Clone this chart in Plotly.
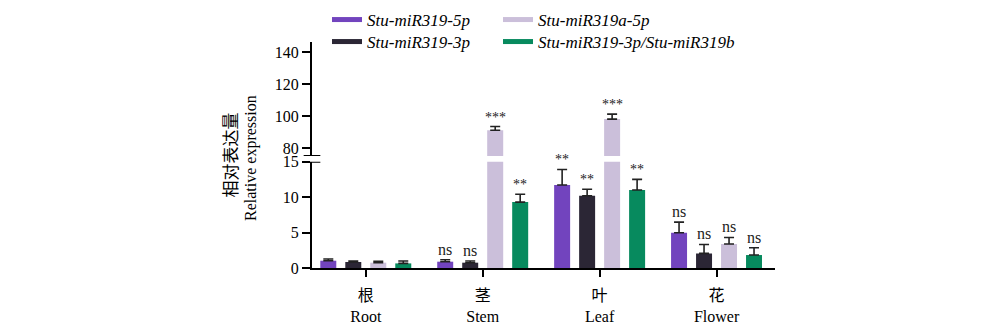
import plotly.graph_objects as go

categories = ["Root", "Stem", "Leaf", "Flower"]
categories_cn = ["根", "茎", "叶", "花"]
series_names = ["Stu-miR319-5p", "Stu-miR319-3p", "Stu-miR319a-5p", "Stu-miR319-3p/Stu-miR319b"]
colors = ["#7244be", "#2b2635", "#cbbfda", "#078a5e"]

mir319_5p = [1.03, 0.89, 11.7, 4.97]
mir319_5p_err = [0.24, 0.28, 2.2, 1.5]
mir319_3p = [0.85, 0.75, 10.2, 2.06]
mir319_3p_err = [0.14, 0.24, 0.9, 1.26]
mir319a_5p = [0.75, 91.3, 98.2, 3.38]
mir319a_5p_err = [0.18, 2.3, 3.1, 0.93]
mir319b = [0.65, 9.3, 11.0, 1.83]
mir319b_err = [0.34, 1.1, 1.5, 1.03]

sig_5p = ["", "ns", "**", "ns"]
sig_3p = ["", "ns", "**", "ns"]
sig_a5p = ["", "***", "***", "ns"]
sig_b = ["", "**", "**", "ns"]

y_ticks_low = [0, 5, 10, 15]
y_ticks_high = [80, 100, 120, 140]
low_range = [0, 15]
high_range = [75.2, 146.3]

values = [mir319_5p, mir319_3p, mir319a_5p, mir319b]
errors = [mir319_5p_err, mir319_3p_err, mir319a_5p_err, mir319b_err]
sigs = [sig_5p, sig_3p, sig_a5p, sig_b]

BARGAP = 0.145
BARGROUPGAP = 0.36
SERIF = "Liberation Serif, Noto Sans CJK SC, serif"

W, H = 1000, 330
L, R, T, B = 312, 225, 41.7, 61.7
PW, PH = W - L - R, H - T - B


def px_x(p):
    return (p - L) / PW


def px_y(p):
    return (H - B - p) / PH


fig = go.Figure()
for i in range(4):
    for yax in ["y", "y2"]:
        fig.add_trace(go.Bar(
            x=categories, y=values[i], yaxis=yax, xaxis="x",
            marker=dict(color=colors[i], line=dict(width=0)),
            error_y=dict(type="data", array=errors[i], arrayminus=[0] * 4, symmetric=False,
                         color="#222222", thickness=1.6, width=5),
            showlegend=False, name=series_names[i],
        ))

# legend entries: one legend per entry, placed as a 2x2 grid
legend_ids = ["legend", "legend2", "legend3", "legend4"]
legend_pos = [(327, 2), (327, 24), (498, 2), (498, 24)]
for i in range(4):
    fig.add_trace(go.Scatter(
        x=[None], y=[None], mode="lines", name=series_names[i],
        line=dict(color=colors[i], width=5), legend=legend_ids[i], showlegend=True,
    ))

legend_layout = {}
for lid, (lx, ly) in zip(legend_ids, legend_pos):
    legend_layout[lid] = dict(
        x=px_x(lx), y=1 - ly / H, xref="paper", yref="container",
        xanchor="left", yanchor="top", orientation="v",
        font=dict(family=SERIF, size=17, style="italic"),
        bgcolor="rgba(0,0,0,0)", borderwidth=0,
    )

# significance labels
slot = (1 - BARGAP) / 4
for i in range(4):
    for c in range(4):
        s = sigs[i][c]
        if not s:
            continue
        top = values[i][c] + errors[i][c]
        yref = "y2" if values[i][c] > low_range[1] else "y"
        fig.add_annotation(
            x=c + (i - 1.5) * slot, y=top, xref="x", yref=yref,
            text=s, showarrow=False, yanchor="bottom", yshift=0,
            font=dict(family=SERIF, size=16 if s == "ns" else 14, color="#222222"),
        )

# axis break marks
fig.add_shape(type="line", xref="paper", yref="y2", x0=-0.018, x1=0.018,
              y0=high_range[0], y1=high_range[0], line=dict(color="black", width=2))
fig.add_shape(type="line", xref="paper", yref="y", x0=-0.018, x1=0.018,
              y0=low_range[1], y1=low_range[1], line=dict(color="black", width=2))

# y titles
fig.add_annotation(x=px_x(228.5), y=px_y(155), xref="paper", yref="paper", text="相对表达量",
                   showarrow=False, textangle=-90, xanchor="center", yanchor="middle",
                   font=dict(family="Noto Sans CJK SC", size=17, color="black"))
fig.add_annotation(x=px_x(251), y=px_y(158), xref="paper", yref="paper", text="Relative expression",
                   showarrow=False, textangle=-90, xanchor="center", yanchor="middle",
                   font=dict(family=SERIF, size=16, color="black"))

fig.update_layout(
    width=W, height=H,
    margin=dict(l=L, r=R, t=T, b=B, pad=0, autoexpand=False),
    paper_bgcolor="white", plot_bgcolor="white",
    barmode="group", bargap=BARGAP, bargroupgap=BARGROUPGAP,
    font=dict(family=SERIF, size=16, color="black"),
    xaxis=dict(
        type="category", range=[-0.46, 3.5], anchor="y",
        tickmode="array", tickvals=categories,
        ticktext=[f"{cn}<br>{en}" for cn, en in zip(categories_cn, categories)],
        showline=True, linecolor="black", linewidth=2,
        ticks="outside", ticklen=7, tickwidth=2, tickcolor="black",
        ticklabelstandoff=5,
        showgrid=False, zeroline=False,
        tickfont=dict(family=SERIF, size=16),
    ),
    yaxis=dict(
        domain=[0, px_y(161.7)], range=low_range, anchor="x",
        tickmode="array", tickvals=y_ticks_low,
        showline=True, linecolor="black", linewidth=2,
        ticks="outside", ticklen=8, tickwidth=2, tickcolor="black",
        showgrid=False, zeroline=False, tickfont=dict(family=SERIF, size=16),
    ),
    yaxis2=dict(
        domain=[px_y(156), 1], range=high_range, anchor="x",
        tickmode="array", tickvals=y_ticks_high,
        showline=True, linecolor="black", linewidth=2,
        ticks="outside", ticklen=8, tickwidth=2, tickcolor="black",
        showgrid=False, zeroline=False, tickfont=dict(family=SERIF, size=16),
    ),
    **legend_layout,
)

fig.write_html("out.html")
